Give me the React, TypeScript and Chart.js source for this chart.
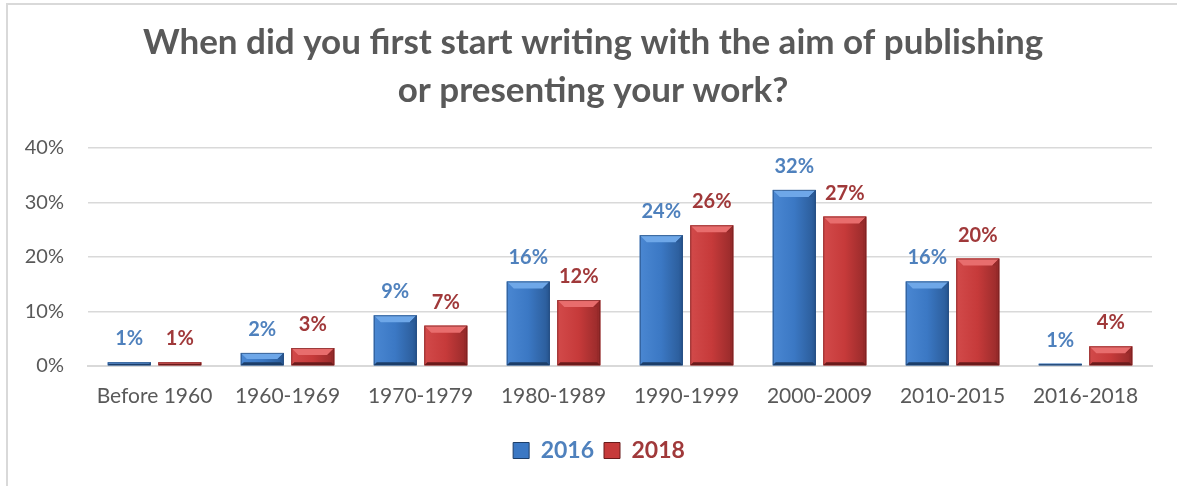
import React, { useEffect, useRef } from "react";
import { Chart, registerables } from "chart.js";

Chart.register(...registerables);

const categories = [
  "Before 1960",
  "1960-1969",
  "1970-1979",
  "1980-1989",
  "1990-1999",
  "2000-2009",
  "2010-2015",
  "2016-2018",
];
const values2016 = [0.7, 2.4, 9.3, 15.5, 24.0, 32.3, 15.5, 0.4];
const values2018 = [0.7, 3.3, 7.4, 12.1, 25.8, 27.4, 19.7, 3.6];
const labels2016 = ["1%", "2%", "9%", "16%", "24%", "32%", "16%", "1%"];
const labels2018 = ["1%", "3%", "7%", "12%", "26%", "27%", "20%", "4%"];
const seriesNames = ["2016", "2018"];
const titleLines = [
  "When did you first start writing with the aim of publishing",
  "or presenting your work?",
];

const palettes = [
  { main: "#3b78c4", light: "#6ea7e8", mid: "#4a87d2", dark: "#2a5a96", darker: "#1c3e69", text: "#4f81bd" },
  { main: "#c63a3a", light: "#e86d6d", mid: "#d24a4a", dark: "#962a2a", darker: "#6a1b1b", text: "#a0393a" },
];

const FONT = "Lato, 'Open Sans', sans-serif";

const bevelPlugin = {
  id: "bevel",
  afterDatasetsDraw(chart: any) {
    const ctx = chart.ctx;
    chart.data.datasets.forEach((ds: any, di: number) => {
      const meta = chart.getDatasetMeta(di);
      const p = palettes[di];
      meta.data.forEach((bar: any) => {
        const { x, y, base, width } = bar.getProps(["x", "y", "base", "width"], true);
        const x0 = x - width / 2;
        const x1 = x + width / 2;
        const y0 = Math.min(y, base);
        const y1 = Math.max(y, base);
        const h = y1 - y0;
        if (h <= 0) return;
        ctx.save();
        const g = ctx.createLinearGradient(x0, 0, x1, 0);
        g.addColorStop(0, p.mid);
        g.addColorStop(0.5, p.main);
        g.addColorStop(1, p.dark);
        ctx.fillStyle = g;
        ctx.fillRect(x0, y0, width, h);
        const b = Math.min(7, h / 2, width / 2);
        const s = Math.min(3, h / 2);
        ctx.fillStyle = p.light;
        ctx.beginPath();
        ctx.moveTo(x0, y0);
        ctx.lineTo(x1, y0);
        ctx.lineTo(x1 - b, y0 + b);
        ctx.lineTo(x0 + b, y0 + b);
        ctx.closePath();
        ctx.fill();
        ctx.fillStyle = p.dark;
        ctx.beginPath();
        ctx.moveTo(x1, y0);
        ctx.lineTo(x1, y1);
        ctx.lineTo(x1 - s, y1 - s);
        ctx.lineTo(x1 - s, y0 + b);
        ctx.lineTo(x1 - b, y0 + b);
        ctx.closePath();
        ctx.fill();
        ctx.fillStyle = p.darker;
        ctx.beginPath();
        ctx.moveTo(x0, y1);
        ctx.lineTo(x1, y1);
        ctx.lineTo(x1 - s, y1 - s);
        ctx.lineTo(x0 + s, y1 - s);
        ctx.closePath();
        ctx.fill();
        ctx.strokeStyle = p.darker;
        ctx.globalAlpha = 0.6;
        ctx.lineWidth = 1;
        ctx.strokeRect(x0 + 0.5, y0 + 0.5, width - 1, h - 1);
        ctx.restore();
      });
    });
  },
};

const dataLabelPlugin = {
  id: "dataLabels",
  afterDatasetsDraw(chart: any) {
    const ctx = chart.ctx;
    const labelSets = [labels2016, labels2018];
    chart.data.datasets.forEach((ds: any, di: number) => {
      const meta = chart.getDatasetMeta(di);
      meta.data.forEach((bar: any, i: number) => {
        const { x, y } = bar.getProps(["x", "y"], true);
        ctx.save();
        ctx.font = `bold 20px ${FONT}`;
        ctx.fillStyle = palettes[di].text;
        ctx.textAlign = "center";
        ctx.textBaseline = "alphabetic";
        ctx.fillText(labelSets[di][i], x, y - 17);
        ctx.restore();
      });
    });
  },
};

// Title and legend in the reference sit a little right of the canvas centre.
const shiftPlugin = {
  id: "shiftBlocks",
  afterLayout(chart: any) {
    const t = chart.titleBlock;
    if (t) {
      t.left += 17;
      t.right += 17;
    }
    const l = chart.legend;
    if (l) {
      l.left += 23;
      l.right += 23;
    }
  },
};

export default function App() {
  const ref = useRef<HTMLCanvasElement | null>(null);
  useEffect(() => {
    if (!ref.current) return;
    const chart = new Chart(ref.current, {
      type: "bar",
      data: {
        labels: categories,
        datasets: [
          {
            label: seriesNames[0],
            data: values2016,
            backgroundColor: palettes[0].main,
            borderWidth: 0,
            categoryPercentage: 0.76,
            barPercentage: 0.85,
          },
          {
            label: seriesNames[1],
            data: values2018,
            backgroundColor: palettes[1].main,
            borderWidth: 0,
            categoryPercentage: 0.76,
            barPercentage: 0.85,
          },
        ],
      },
      options: {
        responsive: false,
        animation: false,
        layout: { padding: { left: 0, right: 25, top: 0, bottom: 14 } },
        plugins: {
          tooltip: { enabled: false },
          title: {
            display: true,
            text: titleLines,
            color: "#595959",
            font: { family: FONT, size: 35, weight: "bold", lineHeight: 1.37 },
            padding: { top: 19, bottom: 33 },
          },
          legend: {
            display: true,
            position: "bottom",
            labels: {
              boxWidth: 16,
              boxHeight: 16,
              padding: 10,
              font: { family: FONT, size: 23, weight: "bold" },
              generateLabels: (c: any) =>
                c.data.datasets.map((ds: any, i: number) => ({
                  text: ds.label,
                  fillStyle: palettes[i].main,
                  strokeStyle: palettes[i].darker,
                  lineWidth: 1,
                  fontColor: palettes[i].text,
                  hidden: false,
                  datasetIndex: i,
                })),
            },
          },
        },
        scales: {
          x: {
            grid: { display: false, drawTicks: false },
            border: { display: true, color: "#d9d9d9", width: 2 },
            ticks: {
              color: "#595959",
              padding: 18,
              font: { family: FONT, size: 21 },
              maxRotation: 0,
              autoSkip: false,
            },
            afterFit: (s: any) => {
              s.height = 63;
            },
          },
          y: {
            min: 0,
            max: 40,
            grid: { color: "#d9d9d9", lineWidth: 1.5, drawTicks: false },
            border: { display: false },
            ticks: {
              stepSize: 10,
              color: "#595959",
              padding: 24,
              font: { family: FONT, size: 20 },
              callback: (v: any) => `${v}%`,
            },
            afterFit: (s: any) => {
              s.width = 88;
            },
          },
        },
      },
      plugins: [shiftPlugin, bevelPlugin, dataLabelPlugin],
    } as any);
    return () => chart.destroy();
  }, []);

  return (
    <div
      style={{
        position: "fixed",
        left: 0,
        top: 0,
        width: 1177,
        height: 486,
        overflow: "hidden",
        background: "#ffffff",
      }}
    >
      <div
        style={{
          position: "absolute",
          left: 6,
          top: 3,
          width: 1300,
          height: 700,
          border: "2px solid #d9d9d9",
          boxSizing: "border-box",
        }}
      />
      <canvas
        ref={ref}
        width={1177}
        height={486}
        style={{ position: "absolute", left: 0, top: 0, width: 1177, height: 486 }}
      />
    </div>
  );
}
